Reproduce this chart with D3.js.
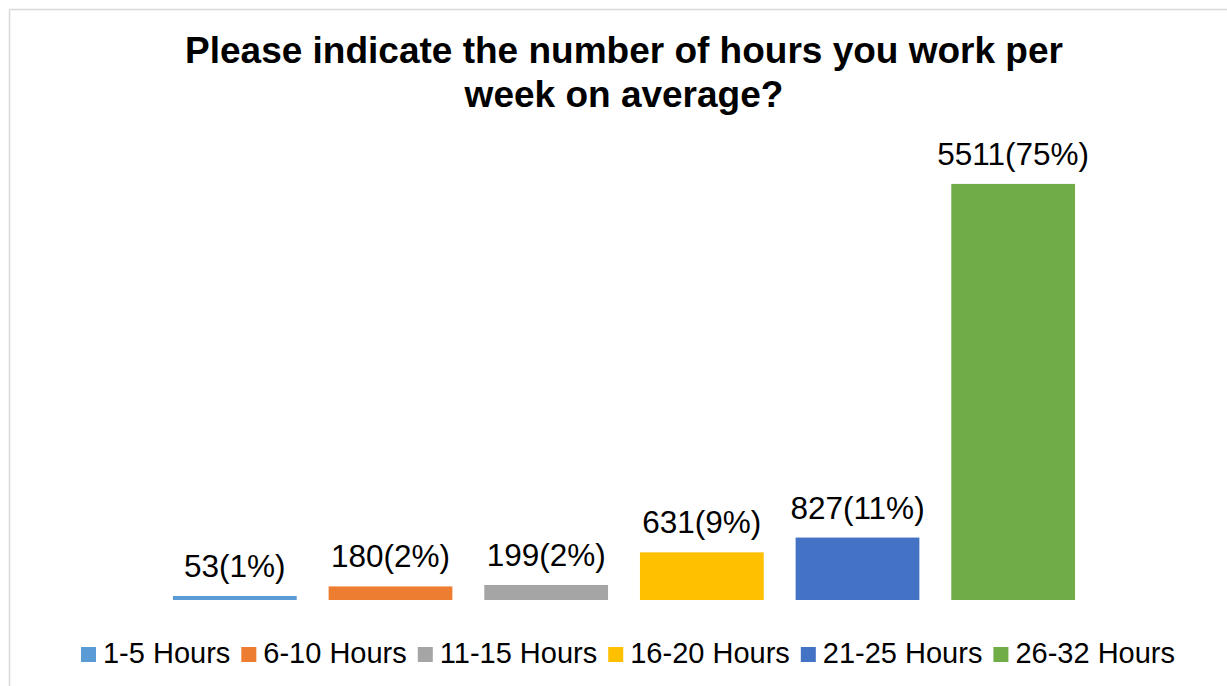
<!DOCTYPE html>
<html>
<head>
<meta charset="utf-8">
<script src="https://cdn.jsdelivr.net/npm/d3@7"></script>
<style>
  html, body { margin: 0; background: #fff; overflow: hidden; }
  svg { display: block; }
  svg text { font-family: "Liberation Sans", Arial, sans-serif; }
  .title { font-weight: bold; font-size: 37px; fill: #000; }
  .barLabel { font-size: 31.5px; fill: #000; }
  .legend text { font-size: 29px; fill: #000; }
</style>
</head>
<body>
<svg></svg>
<script>
// categories and values
var categories = ["1-5 Hours", "6-10 Hours", "11-15 Hours", "16-20 Hours", "21-25 Hours", "26-32 Hours"];
var counts = [53, 180, 199, 631, 827, 5511];
var percents = [1, 2, 2, 9, 11, 75];
var colors = ["#5B9BD5", "#ED7D31", "#A5A5A5", "#FFC000", "#4472C4", "#70AD47"];
var titleLines = ["Please indicate the number of hours you work per", "week on average?"];

var screen = {width: 1227, height: 686};
var plot = {left: 157, right: 1091, top: 147, bottom: 600};

var svg = d3.select("svg")
    .attr("width", screen.width)
    .attr("height", screen.height);

// chart frame: only the top and left edges fall inside the picture
var frame = svg.append("g")
    .attr("stroke", "#d9d9d9")
    .attr("stroke-width", 1.5);
frame.append("line")
    .attr("x1", 9.5).attr("y1", 9.5)
    .attr("x2", screen.width).attr("y2", 9.5);
frame.append("line")
    .attr("x1", 9.5).attr("y1", 9.5)
    .attr("x2", 9.5).attr("y2", screen.height);

var rows = categories.map(function(c, i) {
    return {cat: c, count: counts[i], pct: percents[i], color: colors[i]};
});

var xScale = d3.scaleBand()
    .domain(categories)
    .range([plot.left, plot.right])
    .paddingInner(0.205)
    .paddingOuter(0.1025);

var yScale = d3.scaleLinear()
    .domain([0, 6000])
    .range([plot.bottom, plot.top]);

// bars
svg.append("g")
    .selectAll("rect")
    .data(rows)
    .enter()
    .append("rect")
    .attr("x", function(d) { return xScale(d.cat); })
    .attr("y", function(d) { return yScale(d.count); })
    .attr("width", xScale.bandwidth())
    .attr("height", function(d) { return yScale(0) - yScale(d.count); })
    .attr("fill", function(d) { return d.color; });

// data labels
svg.append("g")
    .selectAll("text")
    .data(rows)
    .enter()
    .append("text")
    .classed("barLabel", true)
    .attr("text-anchor", "middle")
    .attr("x", function(d) { return xScale(d.cat) + xScale.bandwidth() / 2; })
    .attr("y", function(d) { return yScale(d.count) - 19; })
    .text(function(d) { return d.count + "(" + d.pct + "%)"; });

// title
svg.append("g")
    .selectAll("text")
    .data(titleLines)
    .enter()
    .append("text")
    .classed("title", true)
    .attr("text-anchor", "middle")
    .attr("x", 624)
    .attr("y", function(d, i) { return 63 + i * 44; })
    .text(function(d) { return d; });

// legend, laid out left to right then centred
var legend = svg.append("g").classed("legend", true);
var entries = legend.selectAll("g")
    .data(rows)
    .enter()
    .append("g");

entries.append("rect")
    .attr("width", 15)
    .attr("height", 15)
    .attr("y", -16)
    .attr("fill", function(d) { return d.color; });

entries.append("text")
    .attr("x", 22)
    .text(function(d) { return d.cat; });

var pos = 0;
entries.each(function() {
    var w = 22 + d3.select(this).select("text").node().getComputedTextLength();
    d3.select(this).attr("transform", "translate(" + pos + ",0)");
    pos += w + 11;
});
var legendWidth = pos - 11;
legend.attr("transform", "translate(" + (628 - legendWidth / 2) + ",663)");
</script>
</body>
</html>
